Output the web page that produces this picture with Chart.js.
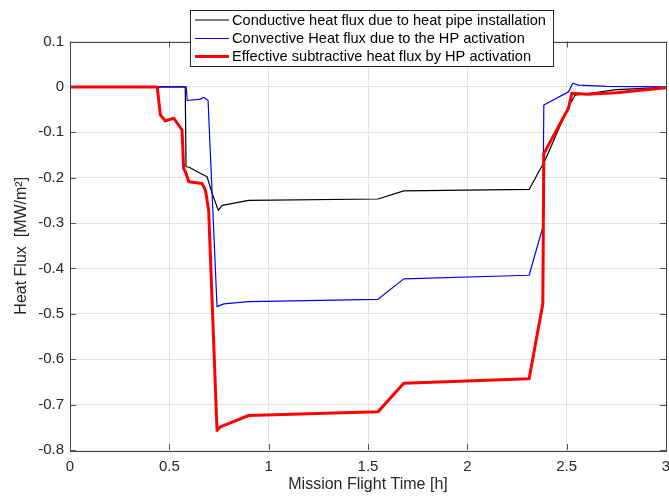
<!DOCTYPE html>
<html>
<head>
<meta charset="utf-8">
<script src="https://cdn.jsdelivr.net/npm/chart.js@4.4.1/dist/chart.umd.min.js"></script>
<style>
  html, body { margin: 0; padding: 0; background: #fff; }
  #wrap { width: 669px; height: 500px; position: relative; }
</style>
</head>
<body>
<div id="wrap"><canvas id="myChart" width="669" height="500"></canvas></div>
<script>
// series: time [h] and heat flux [MW/m2]
const conductiveX = [0, 0.580, 0.584, 0.600, 0.646, 0.690, 0.715, 0.740, 0.747, 0.766, 0.899, 1.55, 1.68, 2.311, 2.392, 2.509, 2.543, 2.618, 2.75, 3];
const conductiveY = [0, 0, -0.176, -0.177, -0.188, -0.198, -0.234, -0.264, -0.272, -0.261, -0.250, -0.247, -0.229, -0.226, -0.161, -0.044, -0.018, -0.014, -0.006, -0.001];

const convectiveX = [0, 0.585, 0.590, 0.656, 0.673, 0.695, 0.740, 0.774, 0.899, 1.55, 1.68, 2.311, 2.380, 2.385, 2.509, 2.531, 2.56, 2.7, 3];
const convectiveY = [0, 0, -0.030, -0.027, -0.023, -0.030, -0.484, -0.478, -0.473, -0.468, -0.423, -0.415, -0.309, -0.040, -0.011, 0.008, 0.004, 0.001, 0];

const effectiveX = [0, 0.439, 0.455, 0.480, 0.522, 0.564, 0.572, 0.582, 0.598, 0.665, 0.682, 0.698, 0.740, 0.757, 0.899, 1.55, 1.68, 2.311, 2.380, 2.385, 2.509, 2.526, 2.6, 2.75, 3];
const effectiveY = [0, 0, -0.062, -0.075, -0.069, -0.095, -0.180, -0.188, -0.209, -0.213, -0.228, -0.272, -0.757, -0.749, -0.724, -0.716, -0.653, -0.643, -0.478, -0.147, -0.047, -0.014, -0.016, -0.013, -0.002];

const seriesLabels = [
  'Conductive heat flux due to heat pipe installation',
  'Convective Heat flux due to the HP activation',
  'Effective subtractive heat flux by HP activation'
];
const xTicks = [0, 0.5, 1, 1.5, 2, 2.5, 3];
const yTicks = [0.1, 0, -0.1, -0.2, -0.3, -0.4, -0.5, -0.6, -0.7, -0.8];

function pts(xs, ys) {
  let out = [];
  for (let i = 0; i < xs.length; i++) out.push({ x: xs[i], y: ys[i] });
  return out;
}

const FONT = '"Liberation Sans", Arial, Helvetica, sans-serif';
const AXIS = '#262626';

// box, inward ticks and the matlab-like legend
const matlabBox = {
  id: 'matlabBox',
  afterDatasetsDraw(chart) {
    let ctx = chart.ctx;
    let a = chart.chartArea;
    let xs = chart.scales.x, ys = chart.scales.y;
    ctx.save();
    ctx.strokeStyle = '#555';
    ctx.lineWidth = 1;
    ctx.beginPath();
    for (let v of xTicks) {
      let px = Math.round(xs.getPixelForValue(v)) + 0.5;
      ctx.moveTo(px, a.bottom); ctx.lineTo(px, a.bottom - 6);
      ctx.moveTo(px, a.top); ctx.lineTo(px, a.top + 6);
    }
    for (let v of yTicks) {
      let py = Math.round(ys.getPixelForValue(v)) + 0.5;
      ctx.moveTo(a.left, py); ctx.lineTo(a.left + 6, py);
      ctx.moveTo(a.right, py); ctx.lineTo(a.right - 6, py);
    }
    ctx.stroke();
    ctx.strokeStyle = '#444';
    ctx.strokeRect(Math.round(a.left) + 0.5, Math.round(a.top) + 0.5, Math.round(a.right - a.left), Math.round(a.bottom - a.top));

    // legend
    let bx = 190.5, by = 10.5, bw = 363, bh = 56;
    ctx.fillStyle = '#fff';
    ctx.fillRect(bx, by, bw, bh);
    ctx.strokeStyle = '#262626';
    ctx.lineWidth = 1;
    ctx.strokeRect(bx, by, bw, bh);
    let rowsY = [20, 38.5, 56.5];
    ctx.font = '14.6px ' + FONT;
    ctx.textBaseline = 'middle';
    chart.data.datasets.forEach(function (ds, i) {
      ctx.strokeStyle = ds.borderColor;
      ctx.lineWidth = ds.borderWidth;
      ctx.beginPath();
      ctx.moveTo(195, rowsY[i]);
      ctx.lineTo(229, rowsY[i]);
      ctx.stroke();
      ctx.fillStyle = '#000';
      ctx.fillText(ds.label, 232, rowsY[i] + 0.5);
    });
    ctx.restore();
  }
};

let ctx = document.getElementById('myChart');
let myChart = new Chart(ctx, {
  type: 'line',
  data: {
    datasets: [{
      label: seriesLabels[0],
      data: pts(conductiveX, conductiveY),
      borderColor: '#000000',
      borderWidth: 1.2,
      order: 3
    }, {
      label: seriesLabels[1],
      data: pts(convectiveX, convectiveY),
      borderColor: '#0000ff',
      borderWidth: 1.2,
      order: 2
    }, {
      label: seriesLabels[2],
      data: pts(effectiveX, effectiveY),
      borderColor: '#ff0000',
      borderWidth: 3,
      order: 1
    }]
  },
  options: {
    responsive: false,
    animation: false,
    events: [],
    layout: { padding: { top: 41.5, right: 3, left: 0, bottom: 0 } },
    elements: {
      point: { radius: 0 },
      line: { tension: 0, fill: false, borderJoinStyle: 'round' }
    },
    plugins: {
      legend: { display: false },
      tooltip: { enabled: false }
    },
    scales: {
      x: {
        type: 'linear',
        min: 0,
        max: 3,
        afterFit: function (s) { s.height = 50; s.paddingLeft = 0; s.paddingRight = 0; },
        afterBuildTicks: function (s) { s.ticks = xTicks.map(v => ({ value: v })); },
        ticks: {
          padding: 8,
          color: AXIS,
          font: { family: FONT, size: 15 },
          maxRotation: 0,
          callback: v => String(Math.round(v * 10) / 10)
        },
        grid: { color: '#e3e3e3', drawTicks: false },
        border: { display: false },
        title: {
          display: true,
          text: 'Mission Flight Time [h]',
          color: AXIS,
          font: { family: FONT, size: 16 },
          padding: { top: 0, bottom: 6 }
        }
      },
      y: {
        min: -0.8,
        max: 0.1,
        afterFit: function (s) { s.width = 70; s.paddingTop = 0; s.paddingBottom = 0; },
        afterBuildTicks: function (s) { s.ticks = yTicks.map(v => ({ value: v })); },
        ticks: {
          padding: 6,
          color: AXIS,
          font: { family: FONT, size: 15 },
          callback: v => String(Math.round(v * 10) / 10)
        },
        grid: { color: '#e3e3e3', drawTicks: false },
        border: { display: false },
        title: {
          display: true,
          text: 'Heat Flux  [MW/m²]',
          color: AXIS,
          font: { family: FONT, size: 16 },
          padding: { top: 12, bottom: 0 }
        }
      }
    }
  },
  plugins: [matlabBox]
});
</script>
</body>
</html>
